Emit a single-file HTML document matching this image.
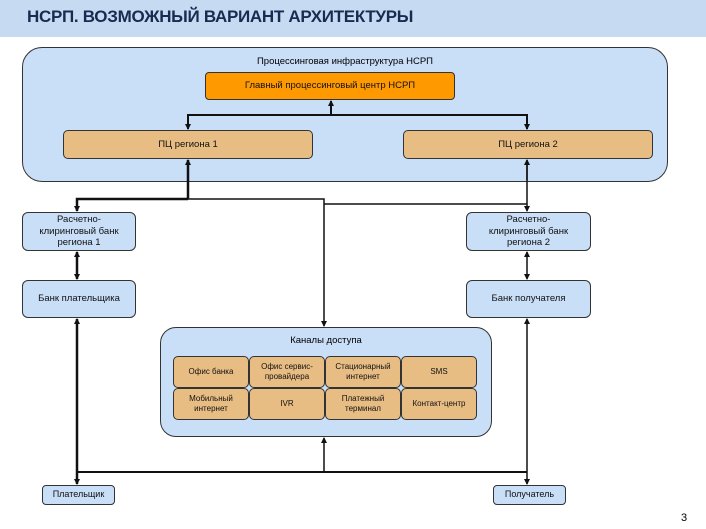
<!DOCTYPE html>
<html><head><meta charset="utf-8"><style>
body{margin:0;width:706px;height:529px;background:#fff;position:relative;overflow:hidden;font-family:"Liberation Sans",sans-serif;}
.b{position:absolute;box-sizing:border-box;border:1px solid #333;display:flex;align-items:center;justify-content:center;text-align:center;font-size:9.5px;color:#111;line-height:1.25;}
.blue{background:#c9def7;border-radius:6px;}
.tan{background:#e8bd84;border-radius:5px;}
.g{font-size:8px;}
</style></head><body>
<div style="position:absolute;left:0;top:0;width:706px;height:37px;background:#c6daf2;"></div>
<div style="position:absolute;left:27px;top:7px;font-size:17px;font-weight:bold;color:#1a2a50;letter-spacing:-0.3px;">НСРП. ВОЗМОЖНЫЙ ВАРИАНТ АРХИТЕКТУРЫ</div>
<div class="b" style="left:22px;top:47px;width:646px;height:135px;background:#c9def7;border-radius:20px;"></div>
<div style="position:absolute;left:0;width:690px;top:56px;text-align:center;font-size:9.5px;">Процессинговая инфраструктура НСРП</div>
<div class="b" style="left:205px;top:72px;width:250px;height:28px;background:#ff9900;border-radius:4px;">Главный процессинговый центр НСРП</div>
<div class="b tan" style="left:63px;top:130px;width:250px;height:29px;">ПЦ региона 1</div>
<div class="b tan" style="left:403px;top:130px;width:250px;height:29px;">ПЦ региона 2</div>
<div class="b blue" style="left:22px;top:212px;width:114px;height:39px;">Расчетно-<br>клиринговый банк<br>региона 1</div>
<div class="b blue" style="left:466px;top:212px;width:125px;height:39px;">Расчетно-<br>клиринговый банк<br>региона 2</div>
<div class="b blue" style="left:22px;top:280px;width:114px;height:38px;">Банк плательщика</div>
<div class="b blue" style="left:466px;top:280px;width:125px;height:38px;">Банк получателя</div>
<div class="b" style="left:160px;top:327px;width:332px;height:110px;background:#c9def7;border-radius:16px;"></div>
<div style="position:absolute;left:160px;width:332px;top:335px;text-align:center;font-size:9.5px;">Каналы доступа</div>
<div class="b tan g" style="left:173px;top:356px;width:76px;height:32px;">Офис банка</div>
<div class="b tan g" style="left:249px;top:356px;width:76px;height:32px;">Офис сервис-<br>провайдера</div>
<div class="b tan g" style="left:325px;top:356px;width:76px;height:32px;">Стационарный<br>интернет</div>
<div class="b tan g" style="left:401px;top:356px;width:76px;height:32px;">SMS</div>
<div class="b tan g" style="left:173px;top:388px;width:76px;height:32px;">Мобильный<br>интернет</div>
<div class="b tan g" style="left:249px;top:388px;width:76px;height:32px;">IVR</div>
<div class="b tan g" style="left:325px;top:388px;width:76px;height:32px;">Платежный<br>терминал</div>
<div class="b tan g" style="left:401px;top:388px;width:76px;height:32px;">Контакт-центр</div>
<div class="b blue" style="left:42px;top:485px;width:73px;height:20px;border-radius:4px;font-size:9px;">Плательщик</div>
<div class="b blue" style="left:493px;top:485px;width:73px;height:20px;border-radius:4px;font-size:9px;">Получатель</div>
<div style="position:absolute;left:681px;top:512px;font-size:11px;">3</div>
<svg width="706" height="529" style="position:absolute;left:0;top:0">
<defs><marker id="a" markerWidth="6" markerHeight="6" refX="5" refY="3" orient="auto" markerUnits="userSpaceOnUse"><path d="M0,0L6,3L0,6z" fill="#111"/></marker></defs>
<g stroke="#111" fill="none">
<path d="M331,115V101" stroke-width="2" marker-end="url(#a)"/>
<path d="M188,129V115H527V129" stroke-width="2" marker-end="url(#a)"/>
<path d="M188,115V129" stroke-width="2" marker-end="url(#a)"/>
<path d="M188,199V160" stroke-width="2.5" marker-end="url(#a)"/>
<path d="M188,199H77V211" stroke-width="2.5" marker-end="url(#a)"/>
<path d="M188,199H324V326" stroke-width="1.5" marker-end="url(#a)"/>
<path d="M324,204H527" stroke-width="1.5"/>
<path d="M527,160V211" stroke-width="1.5" marker-end="url(#a)"/>
<path d="M527,180V160" stroke-width="1.5" marker-end="url(#a)"/>
<path d="M77,265V252" stroke-width="2.5" marker-end="url(#a)"/>
<path d="M77,265V279" stroke-width="2.5" marker-end="url(#a)"/>
<path d="M527,265V252" stroke-width="1.5" marker-end="url(#a)"/>
<path d="M527,265V279" stroke-width="1.5" marker-end="url(#a)"/>
<path d="M77,400V319" stroke-width="2.5" marker-end="url(#a)"/>
<path d="M77,400V484" stroke-width="2.5" marker-end="url(#a)"/>
<path d="M527,400V319" stroke-width="1.5" marker-end="url(#a)"/>
<path d="M527,400V484" stroke-width="1.5" marker-end="url(#a)"/>
<path d="M77,472H527" stroke-width="2"/>
<path d="M324,472V438" stroke-width="1.5" marker-end="url(#a)"/>
</g></svg>
</body></html>
